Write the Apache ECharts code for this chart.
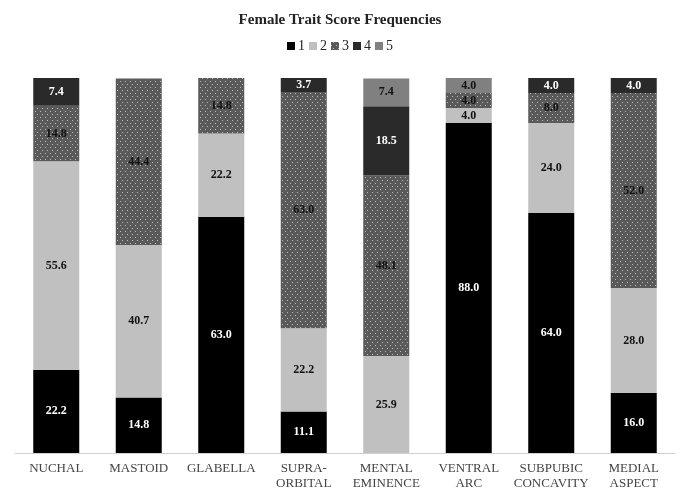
<!DOCTYPE html>
<html>
<head>
<meta charset="utf-8">
<script src="https://cdn.jsdelivr.net/npm/echarts@6/dist/echarts.min.js"></script>
<style>
  html, body { margin: 0; padding: 0; background: #fff; }
  #chart { width: 680px; height: 488px; }
</style>
</head>
<body>
<div id="chart"></div>
<script>
// categories and score percentages
const categories = ['NUCHAL', 'MASTOID', 'GLABELLA', 'SUPRA-\nORBITAL', 'MENTAL\nEMINENCE', 'VENTRAL\nARC', 'SUBPUBIC\nCONCAVITY', 'MEDIAL\nASPECT'];
const score1 = [22.2, 14.8, 63.0, 11.1, 0, 88.0, 64.0, 16.0];
const score2 = [55.6, 40.7, 22.2, 22.2, 25.9, 4.0, 24.0, 28.0];
const score3 = [14.8, 44.4, 14.8, 63.0, 48.1, 4.0, 8.0, 52.0];
const score4 = [7.4, 0, 0, 3.7, 18.5, 0, 4.0, 4.0];
const score5 = [0, 0, 0, 0, 7.4, 4.0, 0, 0];

const serif = '"Liberation Serif", "DejaVu Serif", serif';

function makeSeries(name, data, color, labelColor, decal) {
  const s = {
    name: name,
    type: 'bar',
    stack: 'total',
    barWidth: 46,
    data: data,
    itemStyle: { color: color },
    label: {
      show: true,
      position: 'inside',
      color: labelColor,
      fontFamily: serif,
      fontWeight: 'bold',
      fontSize: 12,
      formatter: p => (p.value ? p.value.toFixed(1) : '')
    }
  };
  if (decal) s.itemStyle.decal = decal;
  return s;
}

// white-ish dot pattern on the score 3 segments
const dots = {
  symbol: 'rect',
  symbolSize: 1,
  color: 'rgba(205,205,205,0.85)',
  dashArrayX: [[1, 4], [0, 2, 1, 2]],
  dashArrayY: [1, 2],
  rotation: 0
};

const chart = echarts.init(document.getElementById('chart'));
chart.setOption({
  backgroundColor: '#fff',
  animation: false,
  aria: { enabled: false },
  title: {
    text: 'Female Trait Score Frequencies',
    left: 'center',
    top: 8,
    textStyle: { fontFamily: serif, fontWeight: 'bold', fontSize: 15, color: '#222' }
  },
  legend: {
    top: 34,
    left: 'center',
    icon: 'rect',
    itemWidth: 8,
    itemHeight: 8,
    itemGap: 4,
    textStyle: { fontFamily: serif, fontSize: 14, color: '#222', padding: [0, 0, 0, -2] },
    data: ['1', '2', '3', '4', '5']
  },
  grid: { left: 15, right: 5, top: 78, bottom: 35, outerBoundsMode: 'none' },
  xAxis: {
    type: 'category',
    data: categories,
    axisLine: { lineStyle: { color: '#d0d0d0' } },
    axisTick: { show: false },
    axisLabel: { fontFamily: serif, fontSize: 13, color: '#444', interval: 0, lineHeight: 15, margin: 8 }
  },
  yAxis: {
    type: 'value',
    min: 0,
    max: 100,
    show: false
  },
  series: [
    makeSeries('1', score1, '#000000', '#fff'),
    makeSeries('2', score2, '#c0c0c0', '#111'),
    makeSeries('3', score3, '#5a5a5a', '#111', dots),
    makeSeries('4', score4, '#2a2a2a', '#fff'),
    makeSeries('5', score5, '#808080', '#111')
  ]
});
</script>
</body>
</html>
